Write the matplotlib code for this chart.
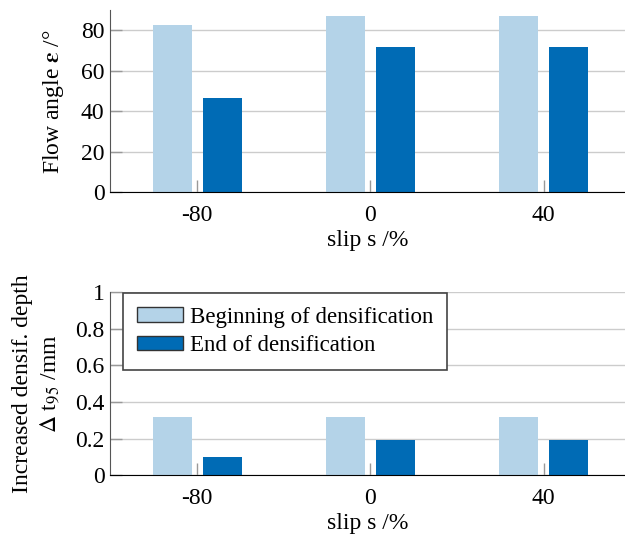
import numpy as np
import matplotlib.pyplot as plt

plt.rcParams['font.family'] = ['Liberation Serif', 'DejaVu Serif']
plt.rcParams['mathtext.fontset'] = 'stix'
plt.rcParams['font.size'] = 17

slips = ['-80', '0', '40']
flow_begin = [82.5, 87, 87]
flow_end = [46.6, 72, 72]
depth_begin = [0.32, 0.32, 0.32]
depth_end = [0.10, 0.19, 0.19]

c_light = '#b4d3e8'
c_dark = '#006bb5'

fig = plt.figure(figsize=(6.25, 5.34), dpi=100)
ax1 = fig.add_axes([0.176, 0.640, 0.824, 0.341])
ax2 = fig.add_axes([0.176, 0.110, 0.824, 0.343])

x = np.arange(len(slips))
w = 0.225
off = 0.145


def style(ax):
    ax.set_axisbelow(True)
    ax.yaxis.grid(True, color='#cccccc', linewidth=1)
    for s in ['top', 'right']:
        ax.spines[s].set_visible(False)
    ax.spines['left'].set_color('#555555')
    ax.spines['bottom'].set_color('black')
    ax.tick_params(direction='in', length=8.5, color='#999999', width=1)
    ax.tick_params(axis='x', pad=9)
    ax.tick_params(axis='y', pad=4)
    ax.set_xticks(x)
    ax.set_xticklabels(slips)
    ax.set_xlim(-0.503, 2.47)
    ax.set_xlabel('slip s /%', labelpad=3)


ax1.bar(x - off, flow_begin, w, color=c_light, label='Beginning of densification')
ax1.bar(x + off, flow_end, w, color=c_dark, label='End of densification')
style(ax1)
ax1.set_ylim(0, 90)
ax1.set_yticks([0, 20, 40, 60, 80])
ax1.set_ylabel(r'Flow angle $\boldsymbol{\varepsilon}$ /°', labelpad=11)

ax2.bar(x - off, depth_begin, w, color=c_light, edgecolor='none', label='Beginning of densification')
ax2.bar(x + off, depth_end, w, color=c_dark, edgecolor='none', label='End of densification')
style(ax2)
ax2.set_ylim(0, 1)
ax2.set_yticks([0, 0.2, 0.4, 0.6, 0.8, 1])
ax2.set_yticklabels(['0', '0.2', '0.4', '0.6', '0.8', '1'])
ax2.set_ylabel('Increased densif. depth\n$\\Delta$ t$_{95}$ /mm', labelpad=10, linespacing=1.3)

h1 = plt.Rectangle((0, 0), 1, 1, facecolor=c_light, edgecolor='#333333')
h2 = plt.Rectangle((0, 0), 1, 1, facecolor=c_dark, edgecolor='#333333')
leg = ax2.legend([h1, h2], ['Beginning of densification', 'End of densification'],
                 loc='upper left', bbox_to_anchor=(0.026, 0.995), fancybox=False,
                 edgecolor='#444444', framealpha=1, handlelength=2.0, handleheight=0.6,
                 borderpad=0.6, labelspacing=0.32, handletextpad=0.3, borderaxespad=0,
                 fontsize=16.5)
leg.get_frame().set_linewidth(1.2)

fig.savefig('out.png', dpi=100)
